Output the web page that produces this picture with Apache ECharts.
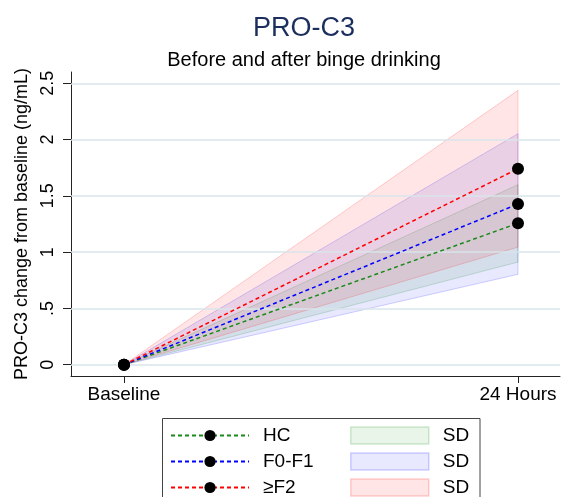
<!DOCTYPE html>
<html>
<head>
<meta charset="utf-8">
<script src="https://cdn.jsdelivr.net/npm/echarts@6/dist/echarts.min.js"></script>
<style>
html,body{margin:0;padding:0;background:#fff;}
#chart{width:561px;height:497px;}
</style>
</head>
<body>
<div id="chart"></div>
<script>
// ---- data ----
var timeLabels = ['Baseline', '24 Hours'];
var timeValues = [0, 1];
var groups = ['HC', 'F0-F1', '≥F2'];
var meanHC = [0, 1.257];
var meanF01 = [0, 1.427];
var meanF2 = [0, 1.741];
var lowerHC = [0, 0.912];
var upperHC = [0, 1.599];
var lowerF01 = [0, 0.803];
var upperF01 = [0, 2.052];
var lowerF2 = [0, 1.045];
var upperF2 = [0, 2.437];
var yTicks = [0, 0.5, 1, 1.5, 2, 2.5];
var yTickLabels = ['0', '.5', '1', '1.5', '2', '2.5'];

var FONT = '"Liberation Sans", Arial, Helvetica, sans-serif';
var lineColors = ['#1a8a1a', '#0000ff', '#ff0000'];
var bandFill = ['rgba(0,140,0,0.09)', 'rgba(0,0,255,0.09)', 'rgba(255,0,0,0.10)'];
var bandEdge = ['rgba(0,140,0,0.18)', 'rgba(0,0,255,0.18)', 'rgba(255,0,0,0.18)'];

function pts(vals) { return timeValues.map(function (t, i) { return [t, vals[i]]; }); }
// one item per segment between consecutive time points: [t0, lo0, hi0, t1, lo1, hi1]
function segs(lo, up) {
  var out = [];
  for (var i = 0; i < timeValues.length - 1; i++) {
    out.push([timeValues[i], lo[i], up[i], timeValues[i + 1], lo[i + 1], up[i + 1]]);
  }
  return out;
}

var means = [meanHC, meanF01, meanF2];
var lowers = [lowerHC, lowerF01, lowerF2];
var uppers = [upperHC, upperF01, upperF2];
var sdNames = ['SD\u200b1', 'SD\u200b2', 'SD\u200b3'];

var series = [];
// grid lines at the labelled y ticks (carrier series is invisible)
series.push({
  name: 'grid', type: 'line', data: pts(meanHC), z: 0, silent: true,
  symbol: 'none', lineStyle: { opacity: 0 },
  markLine: {
    silent: true, symbol: ['none', 'none'], label: { show: false }, animation: false,
    lineStyle: { color: '#d9e4ea', width: 1.5, type: 'solid', opacity: 1 },
    emphasis: { disabled: true },
    data: yTicks.map(function (v) { return { yAxis: v }; })
  }
});
for (var g = 0; g < 3; g++) {
  (function (gi) {
    series.push({
      name: sdNames[gi], type: 'custom', data: segs(lowers[gi], uppers[gi]),
      itemStyle: { color: bandFill[gi] },
      encode: { x: [0, 3], y: [1, 2, 4, 5] },
      z: 1, silent: true,
      renderItem: function (params, api) {
        var a = api.coord([api.value(0), api.value(1)]);
        var b = api.coord([api.value(3), api.value(4)]);
        var c = api.coord([api.value(3), api.value(5)]);
        var d = api.coord([api.value(0), api.value(2)]);
        return {
          type: 'polygon',
          shape: { points: [a, b, c, d] },
          style: { fill: bandFill[gi], stroke: bandEdge[gi], lineWidth: 1 }
        };
      }
    });
  })(g);
}
for (var g2 = 0; g2 < 3; g2++) {
  series.push({
    name: groups[g2], type: 'line', data: pts(means[g2]),
    symbol: 'circle', symbolSize: 12,
    itemStyle: { color: '#000' },
    lineStyle: { color: lineColors[g2], width: 1.5, type: [4, 3] },
    z: 5
  });
}

var chart = echarts.init(document.getElementById('chart'), null, { renderer: 'canvas' });
chart.setOption({
  animation: false,
  backgroundColor: '#fff',
  title: [
    { text: 'PRO-C3', left: 299, textAlign: 'center', top: 10,
      textStyle: { fontFamily: FONT, fontSize: 27, fontWeight: 'normal', color: '#1c2e5e' } },
    { text: 'Before and after binge drinking', left: 299, textAlign: 'center', top: 45,
      textStyle: { fontFamily: FONT, fontSize: 20, fontWeight: 'normal', color: '#000' } }
  ],
  grid: { left: 71, right: 1, top: 72, bottom: 121, containLabel: false },
  xAxis: {
    type: 'value', min: -0.1345, max: 1.1066,
    axisLine: { show: true, onZero: false, lineStyle: { color: '#222', width: 1 } },
    axisTick: { show: true, length: 7, lineStyle: { color: '#222' }, customValues: timeValues },
    axisLabel: { show: true, customValues: timeValues, margin: 9,
      formatter: function (v) { var i = timeValues.indexOf(v); return i >= 0 ? timeLabels[i] : ''; },
      fontFamily: FONT, fontSize: 19, color: '#000' },
    splitLine: { show: false }
  },
  yAxis: {
    type: 'value', min: -0.1, max: 2.6,
    name: 'PRO-C3 change from baseline (ng/mL)', nameLocation: 'middle', nameGap: 38, nameRotate: 90,
    nameTextStyle: { fontFamily: FONT, fontSize: 18, color: '#000' },
    axisLine: { show: true, onZero: false, lineStyle: { color: '#222', width: 1 } },
    axisTick: { show: true, length: 8, lineStyle: { color: '#222' }, customValues: yTicks },
    axisLabel: { show: true, customValues: yTicks, rotate: 90, margin: 14,
      formatter: function (v) { var i = yTicks.indexOf(v); return i >= 0 ? yTickLabels[i] : ''; },
      fontFamily: FONT, fontSize: 18, color: '#000' },
    splitLine: { show: false }
  },
  legend: [
    { orient: 'vertical', left: 170, top: 426, padding: 0, itemGap: 7, itemWidth: 78, itemHeight: 14,
      selectedMode: false, data: groups,
      textStyle: { fontFamily: FONT, fontSize: 19, color: '#000', padding: [0, 0, 0, 9] } },
    { orient: 'vertical', left: 350, top: 426, padding: 0, itemGap: 7, itemWidth: 78, itemHeight: 17,
      selectedMode: false,
      data: sdNames.map(function (n, i) {
        return { name: n, icon: 'rect', itemStyle: { color: bandFill[i], borderColor: bandEdge[i], borderWidth: 1.5 } };
      }),
      formatter: function () { return 'SD'; },
      textStyle: { fontFamily: FONT, fontSize: 19, color: '#000', padding: [0, 0, 0, 9] } }
  ],
  graphic: [
    { type: 'rect', shape: { x: 162.5, y: 418.5, width: 317.5, height: 100 },
      style: { fill: 'none', stroke: '#444', lineWidth: 1 }, silent: true }
  ],
  series: series
});
</script>
</body>
</html>
